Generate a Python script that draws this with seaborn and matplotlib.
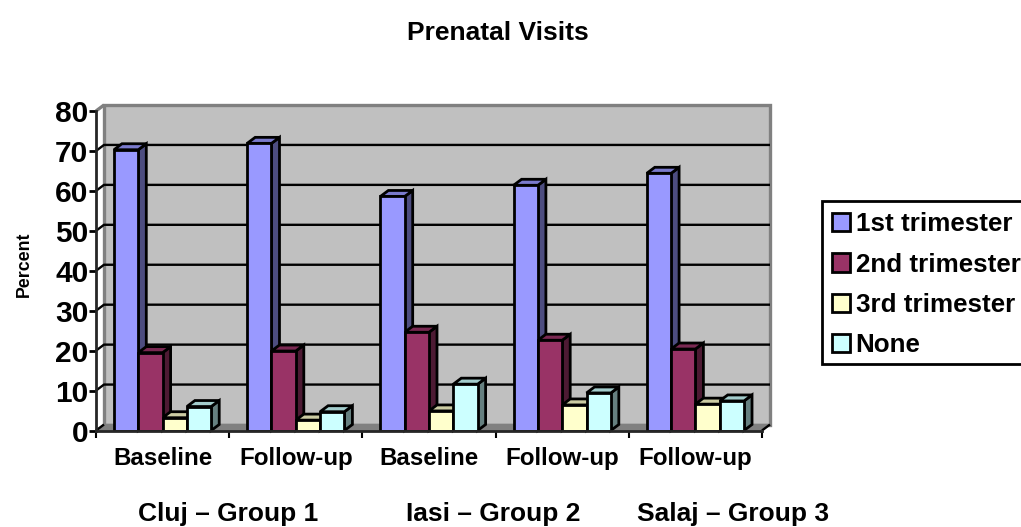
import pandas as pd
import matplotlib.pyplot as plt
import seaborn as sns
from matplotlib.patches import Polygon, Rectangle
from matplotlib.lines import Line2D
from matplotlib.transforms import IdentityTransform

# values
sites = ['Cluj base', 'Cluj follow', 'Iasi base', 'Iasi follow', 'Salaj follow']
tick_labels = ['Baseline', 'Follow-up', 'Baseline', 'Follow-up', 'Follow-up']
trimesters = ['1st trimester', '2nd trimester', '3rd trimester', 'None']
first = [70.3, 71.9, 58.6, 61.4, 64.4]
second = [19.5, 19.9, 24.6, 22.6, 20.4]
third = [3.2, 2.6, 4.9, 6.4, 6.6]
none = [6.0, 4.7, 11.6, 9.4, 7.4]
group_labels = ['Cluj – Group 1', 'Iasi – Group 2', 'Salaj – Group 3']

front_colors = ['#9999FF', '#993366', '#FFFFCC', '#CCFFFF']
top_colors = ['#7A7ACC', '#7A2952', '#CCCCA3', '#A3CCCC']
side_colors = ['#4D4D80', '#4D1A33', '#80806A', '#668080']

W, H = 1021, 527
DX, DY = 8, 6  # depth of the fake 3d, pixels

tabela = pd.DataFrame({'site': sites * 4,
                       'trimester': [t for t in trimesters for _ in sites],
                       'percent': first + second + third + none})

sns.set_style('white')
plt.rcParams['font.family'] = ['Liberation Sans', 'DejaVu Sans']
plt.rcParams['font.weight'] = 'bold'
plt.rcParams['text.color'] = 'black'
plt.rcParams['xtick.labelcolor'] = 'black'
plt.rcParams['ytick.labelcolor'] = 'black'
plt.rcParams['xtick.color'] = 'black'
plt.rcParams['ytick.color'] = 'black'

fig = plt.figure(figsize=(W / 100, H / 100), dpi=100)
ax = fig.add_axes([96 / W, (H - 430.5) / H, 666 / W, 319.5 / H])
sns.barplot(data=tabela, x='site', y='percent', hue='trimester', order=sites,
            hue_order=trimesters, palette=front_colors, width=0.73, gap=0,
            edgecolor='black', linewidth=2, saturation=1, legend=False,
            zorder=10, ax=ax)
ax.set_xlim(-0.5, 4.5)
ax.set_ylim(0, 80)
ax.patch.set_visible(False)


def px(x, y, dx=0, dy=0):
    a, b = ax.transData.transform((x, y))
    return (a + dx, b + dy)


def shape(points, face, edge='black', lw=2, z=1):
    ax.add_patch(Polygon(points, closed=True, facecolor=face, edgecolor=edge,
                         linewidth=lw, transform=IdentityTransform(),
                         clip_on=False, zorder=z))


def line(points, color='black', lw=1.7, z=2):
    ax.add_line(Line2D([p[0] for p in points], [p[1] for p in points], color=color,
                       linewidth=lw, transform=IdentityTransform(),
                       clip_on=False, zorder=z, solid_capstyle='butt'))


# back wall, floor, left side
x0, x1 = -0.5, 4.5
shape([px(x0, 0, DX, DY), px(x1, 0, DX, DY), px(x1, 80, DX, DY), px(x0, 80, DX, DY)],
      '#C0C0C0', edge='#808080', lw=2.4)
shape([px(x0, 0), px(x1, 0), px(x1, 0, DX, DY), px(x0, 0, DX, DY)], '#808080',
      edge='#808080', lw=1)
line([px(x0, 80), px(x0, 80, DX, DY)], color='#808080', lw=2.4)
line([px(x1, 0), px(x1, 0, DX, DY)])
line([px(x0, 0), px(x0, 0, DX, DY)])

for v in range(10, 80, 10):
    line([px(x0, v), px(x0, v, DX, DY), px(x1, v, DX, DY)])

# top and side faces taken from the bars seaborn drew
for i, container in enumerate(ax.containers):
    for bar in container:
        left, right = bar.get_x(), bar.get_x() + bar.get_width()
        h = bar.get_height()
        z = 4 + i
        shape([px(right, 0), px(right, 0, DX, DY), px(right, h, DX, DY), px(right, h)],
              side_colors[i], z=z)
        shape([px(left, h), px(right, h), px(right, h, DX, DY), px(left, h, DX, DY)],
              top_colors[i], z=z)

# axes and ticks
sns.despine(ax=ax)
ax.spines['left'].set_linewidth(2)
ax.spines['bottom'].set_linewidth(2)
ax.spines['left'].set_zorder(20)
ax.spines['bottom'].set_zorder(20)
ax.set_yticks(range(0, 81, 10))
ax.set_xticks([x0 + k for k in range(6)], [''] * 6)
ax.set_xticks(range(5), tick_labels, minor=True)
ax.tick_params(axis='y', left=True, length=5, width=2, labelsize=21.5, pad=0.5)
ax.tick_params(axis='x', which='major', bottom=True, length=5, width=1.5)
ax.tick_params(axis='x', which='minor', bottom=False, length=0, labelsize=17.4, pad=12)
ax.set_xlabel('')
ax.set_ylabel('')

fig.text(498 / W, 1 - 32.5 / H, 'Prenatal Visits', ha='center', va='center', fontsize=19)
fig.text(24 / W, 1 - 264 / H, 'Percent', rotation=90, ha='center', va='center', fontsize=12.8)
for x, label in zip([228, 493, 733], group_labels):
    fig.text(x / W, 1 - 514.5 / H, label, ha='center', va='center', fontsize=19)

# legend box runs off the right edge like the original
fig.add_artist(Rectangle((822 / W, 1 - 364 / H), 300 / W, 163 / H, facecolor='white',
                         edgecolor='black', linewidth=2, transform=fig.transFigure))
handles = [Rectangle((0, 0), 1, 1, facecolor=c, edgecolor='black', linewidth=2)
           for c in front_colors]
leg = fig.legend(handles, trimesters, loc='upper left',
                 bbox_to_anchor=(820 / W, 1 - 200.5 / H), borderaxespad=0,
                 fontsize=18.7, frameon=False, handlelength=0.72, handleheight=0.72,
                 handletextpad=0.2, labelspacing=0.63, borderpad=0.45)
leg.set_zorder(5)

plt.savefig('out.png', dpi=100)
